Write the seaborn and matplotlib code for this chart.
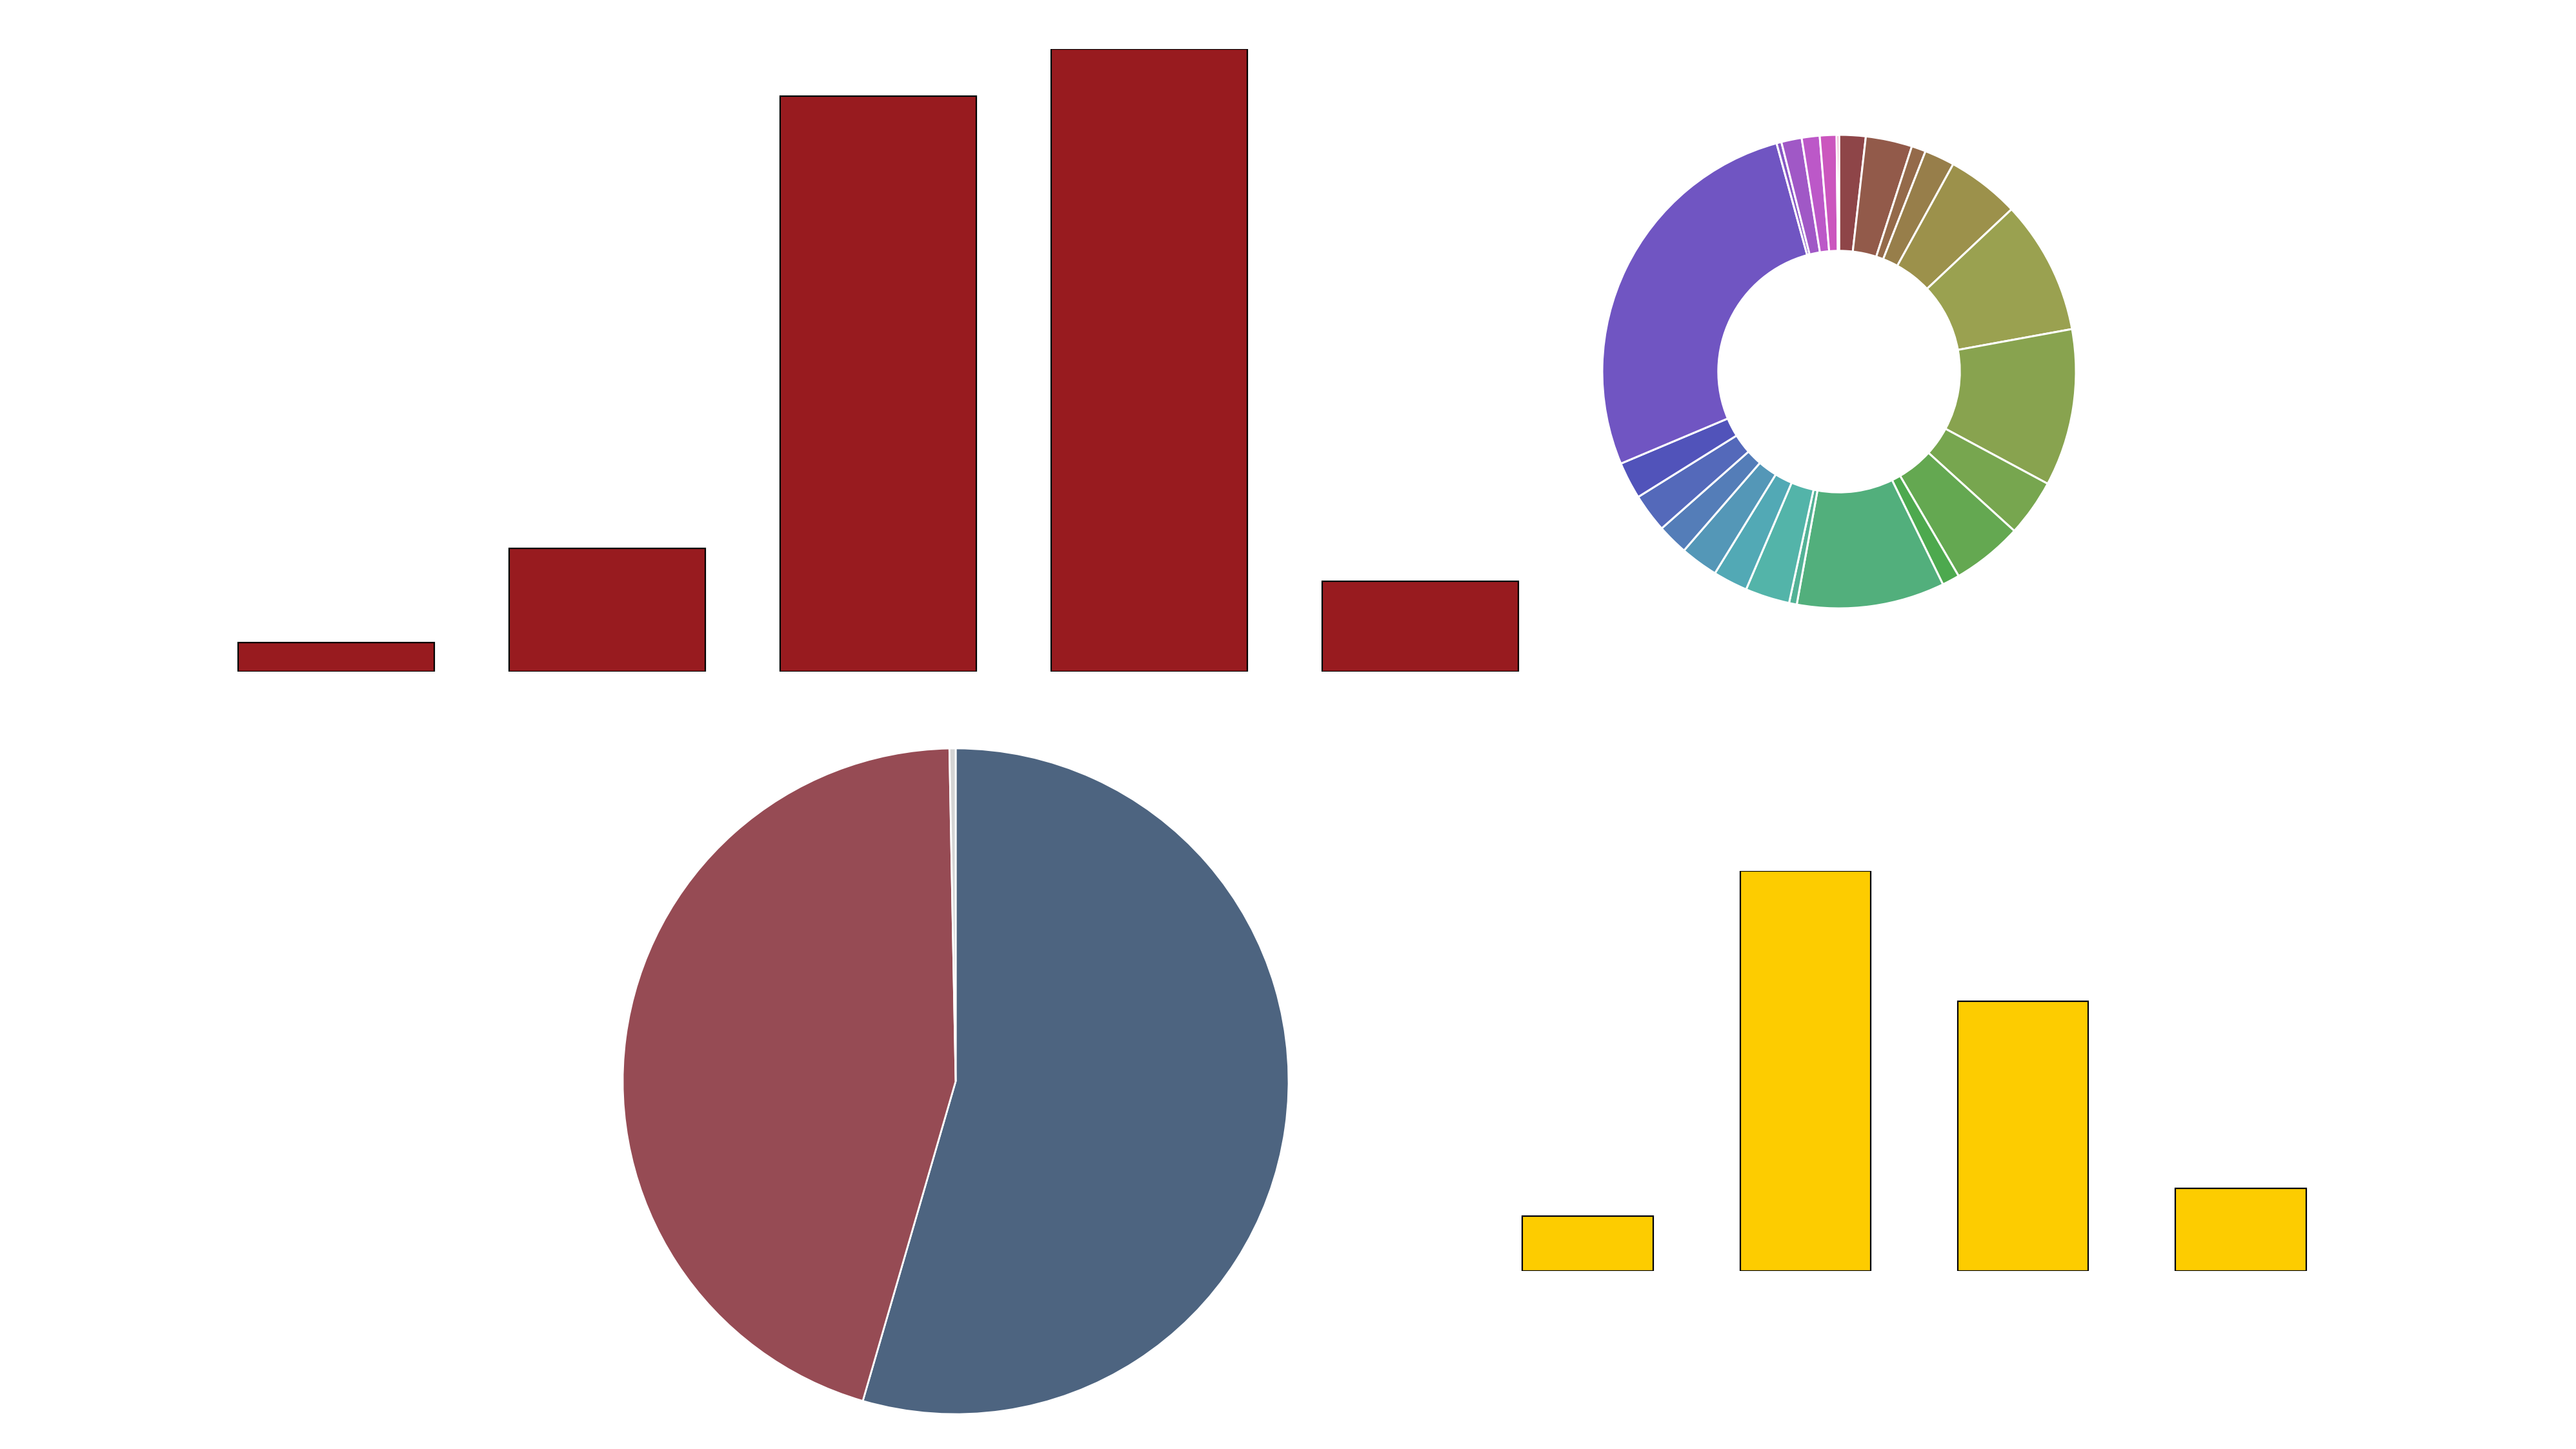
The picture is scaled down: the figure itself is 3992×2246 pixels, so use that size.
import matplotlib
matplotlib.use("Agg")
import matplotlib.pyplot as plt
import seaborn as sns
import pandas as pd

# top bar chart (dark red)
top_cats = ["A", "B", "C", "D", "E"]
top_vals = [45, 191, 893, 966, 140]

# bottom right bar chart (yellow)
low_cats = ["A", "B", "C", "D"]
low_vals = [85, 620, 418, 128]

# big pie (percent)
pie_vals = [54.5, 45.2, 0.3]
pie_colors = ["#4d6480", "#964b54", "#d4d4d4"]

# donut segments, clockwise from the top
donut_vals = [6.5, 11.4, 3.5, 7.4, 17.9, 32.9, 38.6, 14.0, 17.4, 4.3,
              36.3, 1.9, 10.9, 8.5, 9.3, 7.6, 9.5, 9.1, 97.5, 1.2,
              5.0, 4.4, 4.1, 0.6]
donut_colors = ["#8e4548", "#925a4a", "#946a4a", "#977e4a", "#9c914b",
                "#9aa150", "#88a34f", "#77a64f", "#64a851", "#4da94e",
                "#52af7c", "#53b296", "#53b4a9", "#52a9b5", "#5497b7",
                "#547db8", "#5469ba", "#5153ba", "#7055c2", "#8757c4",
                "#a058c6", "#bc58c8", "#cb56be", "#d55590"]

W, H = 3992, 2246
sns.set_style("white")
fig = plt.figure(figsize=(W / 100, H / 100), dpi=100)


def px_axes(left, top, w, h):
    ax = fig.add_axes([left / W, 1 - (top + h) / H, w / W, h / H])
    ax.set_axis_off()
    return ax


# top bars
ax1 = px_axes(311, 76, 2100, 965)
df1 = pd.DataFrame({"cat": top_cats, "val": top_vals})
sns.barplot(data=df1, x="cat", y="val", color="#981b1f", saturation=1,
            edgecolor="black", linewidth=1.6, width=0.725, ax=ax1)
ax1.set_xlim(-0.5, len(top_cats) - 0.5)
ax1.set_ylim(0, max(top_vals))
ax1.set_axis_off()

# yellow bars
ax2 = px_axes(2292, 1350, 1349, 620)
df2 = pd.DataFrame({"cat": low_cats, "val": low_vals})
sns.barplot(data=df2, x="cat", y="val", color="#fdcc00", saturation=1,
            edgecolor="black", linewidth=1.6, width=0.6, ax=ax2)
ax2.set_xlim(-0.5, len(low_cats) - 0.5)
ax2.set_ylim(0, max(low_vals))
ax2.set_axis_off()

# big pie
r = 516
ax3 = px_axes(1481 - r, 1676 - r, 2 * r, 2 * r)
ax3.pie(pie_vals, colors=pie_colors, startangle=90, counterclock=False,
        radius=1, wedgeprops=dict(edgecolor="white", linewidth=2))
ax3.set_xlim(-1, 1)
ax3.set_ylim(-1, 1)

# donut
r = 367
ax4 = px_axes(2850 - r, 576 - r, 2 * r, 2 * r)
ax4.pie(donut_vals, colors=donut_colors, startangle=90, counterclock=False,
        radius=1, wedgeprops=dict(width=0.49, edgecolor="white", linewidth=2.2))
ax4.set_xlim(-1, 1)
ax4.set_ylim(-1, 1)

fig.savefig("out.png", dpi=100, facecolor="white")
